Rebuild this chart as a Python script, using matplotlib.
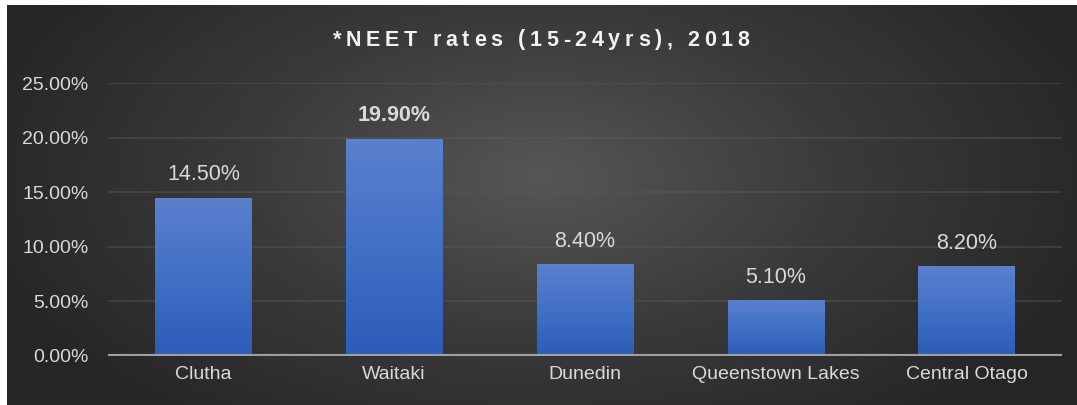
import numpy as np
import matplotlib.pyplot as plt
from matplotlib.colors import LinearSegmentedColormap
from matplotlib.font_manager import FontProperties

plt.rcParams['font.family'] = ['Liberation Sans', 'DejaVu Sans']

title = '*NEET rates (15-24yrs), 2018'
regions = ['Clutha', 'Waitaki', 'Dunedin', 'Queenstown Lakes', 'Central Otago']
neet = [14.5, 19.9, 8.4, 5.1, 8.2]
labels = ['14.50%', '19.90%', '8.40%', '5.10%', '8.20%']
bold_label = 'Waitaki'
yticks = [0, 5, 10, 15, 20, 25]

fig = plt.figure(figsize=(10.77, 4.05), dpi=100)
fig.patch.set_facecolor('white')

# dark radial background panel
bg = fig.add_axes([7 / 1077, 0, 1 - 7 / 1077, 1 - 5 / 405])
bg.set_axis_off()
yy, xx = np.mgrid[0:400, 0:1070]
r = np.sqrt(((xx - 535) / 600.0) ** 2 + ((yy - 170) / 320.0) ** 2)
r = np.clip(r, 0, 1)
bg_cmap = LinearSegmentedColormap.from_list('bg', ['#565656', '#3a3a3a', '#252525'])
bg.imshow(r, cmap=bg_cmap, aspect='auto', extent=[0, 1, 0, 1], vmin=0, vmax=1)
bg.set_xlim(0, 1)
bg.set_ylim(0, 1)

ax = fig.add_axes([108 / 1077, 49 / 405, 954 / 1077, 273 / 405])
ax.patch.set_alpha(0)

x = np.arange(len(regions))
bars = ax.bar(x, neet, width=0.505, color='#4472c4', zorder=3)

bar_cmap = LinearSegmentedColormap.from_list('bar', ['#2c5cb8', '#4170c6', '#5b80cd'])
grad = np.linspace(0, 1, 256).reshape(-1, 1)
for b in bars:
    x0, y0 = b.get_x(), b.get_y()
    w, h = b.get_width(), b.get_height()
    im = ax.imshow(grad, cmap=bar_cmap, aspect='auto', origin='lower',
                   extent=[x0, x0 + w, y0, y0 + h], zorder=4)
    im.set_clip_path(b)

for xi, v, lab, name in zip(x, neet, labels, regions):
    ax.annotate(lab, (xi, v), xytext=(0, 9), textcoords='offset points',
                ha='center', va='bottom', color='#d9d9d9', fontsize=15.5,
                fontweight='bold' if name == bold_label else 'normal', zorder=5)

ax.set_xlim(-0.5, len(regions) - 0.5)
ax.set_ylim(0, 25)
ax.set_yticks(yticks)
ax.set_yticklabels([f'{t:.2f}%' for t in yticks])
ax.set_xticks(x)
ax.set_xticklabels(regions)
ax.tick_params(axis='both', colors='#d9d9d9', labelsize=14, length=0)
ax.tick_params(axis='y', pad=14)
ax.tick_params(axis='x', pad=7)
ax.grid(axis='y', color='#5a5a5a', linewidth=1.2, alpha=0.5, zorder=1)
ax.axhline(0, color='#a0a0a0', linewidth=3, zorder=6)
for s in ax.spines.values():
    s.set_visible(False)

# letter-spaced title
renderer = fig.canvas.get_renderer()
fp = FontProperties(family=['Liberation Sans', 'DejaVu Sans'], weight='bold', size=15.5)


def text_w(s):
    return renderer.get_text_width_height_descent(s, fp, ismath=False)[0]


space_w = text_w('a a') - text_w('aa')
widths = [space_w if c == ' ' else text_w(c) for c in title]
target = 417.0
gap = (target - sum(widths)) / (len(title) - 1)
xpos = 541 - target / 2
for c, w in zip(title, widths):
    if c != ' ':
        fig.text(xpos / 1077, 1 - 40 / 405, c, ha='left', va='center',
                 color='#f2f2f2', fontproperties=fp)
    xpos += w + gap

fig.savefig('out.png', dpi=100)
